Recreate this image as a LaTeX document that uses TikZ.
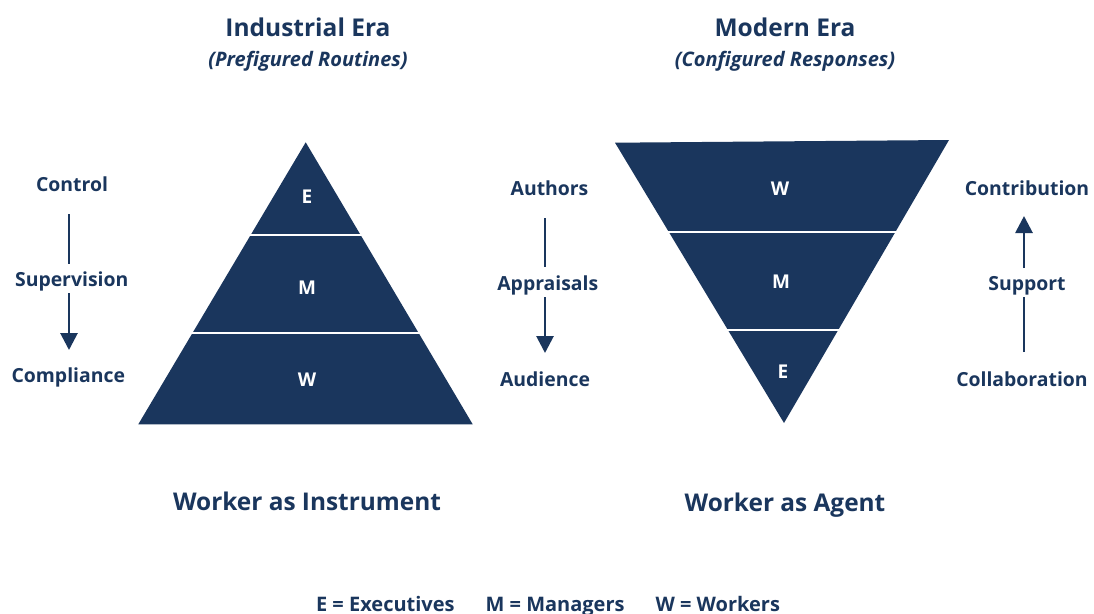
\documentclass[tikz,border=0pt]{standalone}
\usepackage{fontspec}
\setmainfont{Open Sans}
\usetikzlibrary{arrows.meta}
\definecolor{navy}{HTML}{1A365D}
\begin{document}
\begin{tikzpicture}[x=1pt,y=-1pt,
  txt/.style={text=navy,font=\bfseries\fontsize{#1}{#1}\selectfont,anchor=base,inner sep=0pt},
  txt/.default=19.4,
  subt/.style={text=navy,font=\bfseries\itshape\fontsize{20}{20}\selectfont,anchor=base,inner sep=0pt},
  tier/.style={text=white,font=\bfseries\fontsize{19}{19}\selectfont,inner sep=0pt},
  gap/.style={draw=white,line width=2.6pt},
  flow/.style={draw=navy,line width=2.8pt},
  flowtip/.style={flow,-{Triangle[length=17pt,width=17pt]}}]
\useasboundingbox (0,0) rectangle (1094,613);
\fill[white] (0,0) rectangle (1094,613);

% headings
\node[txt=24.5] (h1) at (308,36.5) {Industrial Era};
\node[subt] (s1) at (308,66) {(Prefigured Routines)};
\node[txt=24.5] (h2) at (785,36.5) {Modern Era};
\node[subt] (s2) at (785,66) {(Configured Responses)};

% upright pyramid
\fill[navy] (305.7,142.3) -- (472.7,424.3) -- (138.3,424.3) -- cycle;
\draw[gap] (120,235) -- (490,235);
\draw[gap] (120,333) -- (490,333);
\node[tier] (le) at (307,197) {E};
\node[tier] (lm) at (307,288) {M};
\node[tier] (lw) at (307,380) {W};

% inverted pyramid
\fill[navy] (615,142.7) -- (949,140) -- (784,423) -- cycle;
\draw[gap] (600,232) -- (960,232);
\draw[gap] (600,330) -- (960,330);
\node[tier] (rw) at (780,189) {W};
\node[tier] (rm) at (781,282) {M};
\node[tier] (re) at (783,372) {E};

% left column
\node[txt] (ctrl) at (72,191.5) {Control};
\node[txt] (sup) at (71.7,286.5) {Supervision};
\node[txt] (comp) at (68.3,382.5) {Compliance};
\coordinate (la) at (69,214);
\coordinate (lb) at (69,264);
\coordinate (lc) at (69,293);
\coordinate (ld) at (69,350);
\draw[flow] (la) -- (lb);
\draw[flowtip] (lc) -- (ld);

% middle column
\node[txt] (auth) at (549.5,195) {Authors};
\node[txt] (appr) at (547.8,290) {Appraisals};
\node[txt] (aud) at (545,386) {Audience};
\coordinate (ma) at (545,218);
\coordinate (mb) at (545,267);
\coordinate (mc) at (545,297);
\coordinate (md) at (545,353);
\draw[flow] (ma) -- (mb);
\draw[flowtip] (mc) -- (md);

% right column
\node[txt] (contr) at (1027,195) {Contribution};
\node[txt] (supp) at (1027,290) {Support};
\node[txt] (coll) at (1022,386) {Collaboration};
\coordinate (ra) at (1024,352);
\coordinate (rb) at (1024,297);
\coordinate (rc) at (1024,268);
\coordinate (rd) at (1024,216);
\draw[flow] (ra) -- (rb);
\draw[flowtip] (rc) -- (rd);

% captions
\node[txt=24.4] (cap1) at (307,510) {Worker as Instrument};
\node[txt=24.4] (cap2) at (785,511) {Worker as Agent};

% legend along the lower edge
\node[txt=20] (key) at (548,611) {E = Executives\hspace{31pt}M = Managers\hspace{31pt}W = Workers};
\end{tikzpicture}
\end{document}
